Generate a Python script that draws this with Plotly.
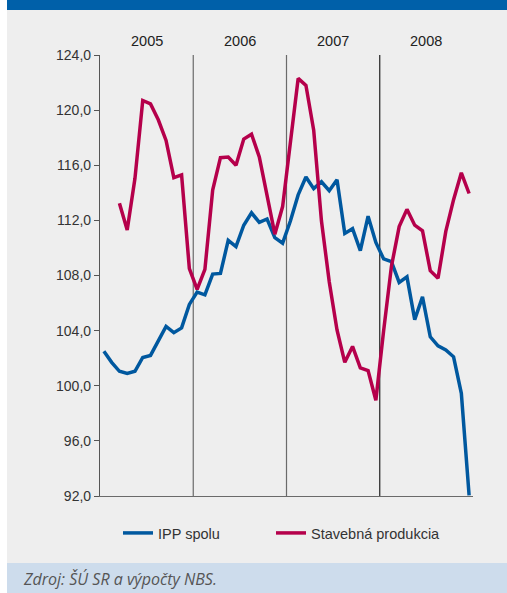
import plotly.graph_objects as go

# ---- data ----
months = [f"{y}-{m:02d}" for y in (2005, 2006, 2007, 2008) for m in range(1, 13)]
years = ["2005", "2006", "2007", "2008"]

ipp_spolu = [102.5, 101.7, 101.05, 100.9, 101.05, 102.05, 102.2, 103.2, 104.3, 103.85, 104.2, 105.9,
             106.8, 106.6, 108.1, 108.15, 110.55, 110.1, 111.65, 112.55, 111.85, 112.1, 110.75, 110.35,
             111.95, 113.85, 115.15, 114.3, 114.8, 114.15, 114.95, 111.05, 111.4, 109.8, 112.3, 110.4,
             109.2, 109.0, 107.5, 107.9, 104.8, 106.45, 103.55, 102.9, 102.6, 102.1, 99.45, 92.05]

stavebna = [None, None, 113.25, 111.3, 115.05, 120.7, 120.45, 119.3, 117.8, 115.1, 115.3, 108.5,
            107.0, 108.45, 114.2, 116.55, 116.6, 116.0, 117.9, 118.25, 116.6, 113.85, 111.0, 113.0,
            117.85, 122.3, 121.8, 118.55, 111.95, 107.55, 104.05, 101.7, 102.85, 101.3, 101.1, 98.95,
            104.0, 108.65, 111.55, 112.8, 111.65, 111.25, 108.35, 107.8, 111.2, 113.5, 115.45, 113.95]

y_ticks = [92, 96, 100, 104, 108, 112, 116, 120, 124]

BLUE = "#00589f"
RED = "#b5004b"
BG = "#eeeeee"

W, H = 507, 593
L, R, T, B = 100, 34, 55, 97
pw, ph = W - L - R, H - T - B


def px_x(p):
    return (p - L) / pw


def px_y(p):
    return (H - B - p) / ph


fig = go.Figure()
fig.add_trace(go.Scatter(x=months, y=ipp_spolu, mode="lines", name="IPP spolu",
                         line=dict(color=BLUE, width=3.5), legend="legend"))
fig.add_trace(go.Scatter(x=months, y=stavebna, mode="lines", name="Stavebná produkcia",
                         line=dict(color=RED, width=3.5), legend="legend2"))

shapes = []
# left white strip
shapes.append(dict(type="rect", xref="paper", yref="paper", x0=px_x(0), x1=px_x(7),
                   y0=px_y(H), y1=px_y(0), fillcolor="white", line_width=0, layer="below"))
# header bar
shapes.append(dict(type="rect", xref="paper", yref="paper", x0=px_x(7), x1=px_x(W),
                   y0=px_y(10), y1=px_y(0), fillcolor="#0060a9", line_width=0, layer="below"))
# source box
shapes.append(dict(type="rect", xref="paper", yref="paper", x0=px_x(7), x1=px_x(W),
                   y0=px_y(H), y1=px_y(563), fillcolor="#cddcec", line_width=0, layer="below"))
# year separators
for i, col in zip((12, 24, 36), ("#6a6a6a", "#6a6a6a", "#222222")):
    shapes.append(dict(type="line", xref="x", yref="y", x0=i - 0.5, x1=i - 0.5,
                       y0=y_ticks[0], y1=y_ticks[-1], line=dict(color=col, width=1.2), layer="below"))

annotations = []
for k, yr in enumerate(years):
    annotations.append(dict(x=12 * k + 5.5, y=px_y(41), xref="x", yref="paper", text=yr,
                            showarrow=False, font=dict(size=14.5, color="#222"),
                            xanchor="center", yanchor="middle"))
annotations.append(dict(x=px_x(21), y=px_y(579), xref="paper", yref="paper",
                        text="<i>Zdroj: ŠÚ SR a výpočty NBS.</i>", showarrow=False,
                        font=dict(size=16, color="#555", family="Open Sans"),
                        xanchor="left", yanchor="middle"))

leg_common = dict(orientation="h", y=px_y(533), xanchor="left", yanchor="middle",
                  bgcolor="rgba(0,0,0,0)", font=dict(size=14.5, color="#333"), itemwidth=30)

fig.update_layout(
    width=W, height=H,
    margin=dict(l=L, r=R, t=T, b=B, pad=0),
    paper_bgcolor=BG, plot_bgcolor=BG,
    font=dict(family="Liberation Sans, Arial, sans-serif", size=14, color="#333"),
    separators=",.",
    showlegend=True,
    legend=dict(x=px_x(118), **leg_common),
    legend2=dict(x=px_x(271), **leg_common),
    shapes=shapes,
    annotations=annotations,
)
fig.update_xaxes(type="category", range=[-0.5, 47.5], showticklabels=False, ticks="",
                 showgrid=False, zeroline=False, showline=True, linecolor="#6a6a6a", linewidth=1.2)
fig.update_yaxes(range=[92, 124], tickvals=y_ticks, tickformat=".1f", ticks="outside",
                 ticklen=5, tickcolor="#555", showgrid=False, zeroline=False, showline=True,
                 linecolor="#555", linewidth=1.2, tickfont=dict(size=14, color="#333"))

fig.write_html("out.html", config={"displayModeBar": False},
               post_script="document.body.style.margin='0';document.body.style.overflow='hidden';")
